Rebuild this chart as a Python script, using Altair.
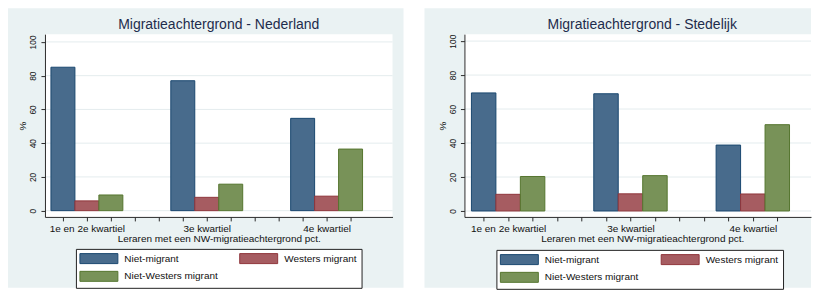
import altair as alt
import pandas as pd

# ---------------- data ----------------
categories = ["1e en 2e kwartiel", "3e kwartiel", "4e kwartiel"]
series = ["Niet-migrant", "Westers migrant", "Niet-Westers migrant"]

nederland_niet_migrant = [85.0, 77.0, 54.7]
nederland_westers = [5.8, 7.9, 8.6]
nederland_niet_westers = [9.3, 15.7, 36.5]

stedelijk_niet_migrant = [69.5, 69.0, 38.8]
stedelijk_westers = [9.8, 10.1, 10.0]
stedelijk_niet_westers = [20.3, 20.8, 50.8]

y_ticks = [0, 20, 40, 60, 80, 100]
panel_titles = ["Migratieachtergrond - Nederland", "Migratieachtergrond - Stedelijk"]
x_title = "Leraren met een NW-migratieachtergrond pct."
y_title = "%"

# ---------------- style ----------------
FONT = "Liberation Sans"
BG = "#EAF2F3"
GRID = "#E4ECEE"
AXIS = "#2b2b2b"
TITLE_COLOR = "#1E2C4C"
fill_colors = ["#486B8C", "#A65C61", "#789258"]
stroke_colors = ["#1A476F", "#90353B", "#55752F"]
SLOTS = 5  # 3 bars + 2 empty slots per group


def make_df(lists):
    rows = []
    for si, (name, vals) in enumerate(zip(series, lists)):
        for gi, v in enumerate(vals):
            rows.append({"group": categories[gi], "gi": gi, "series": name, "si": si, "value": v})
    return pd.DataFrame(rows)


tick_values = list(range(len(categories) * SLOTS - 2))
label_expr = " : ".join(
    f"datum.value == {gi * SLOTS + 1} ? '{c}'" for gi, c in enumerate(categories)
) + " : ''"


def panel(df, title, width, height, xdom, ydom, bg_left, bg_right, legend_x, legend_y, col_pad,
          ylab_size, center_shift):
    xscale = alt.Scale(domain=xdom, nice=False, zero=False)
    yscale = alt.Scale(domain=ydom, nice=False, zero=False)
    yaxis = alt.Axis(
        values=y_ticks, title=y_title, labelAngle=270, labelAlign="center", labelBaseline="middle",
        labelPadding=8, tickSize=4, tickColor=AXIS, domainColor=AXIS, labelColor="#111",
        labelFont=FONT, labelFontSize=ylab_size, titleFont=FONT, titleFontSize=10,
        titleFontWeight="normal", titleColor="#111", titleAngle=270, titleBaseline="middle",
        titleAlign="center", titleX=-22, grid=False, zindex=1,
    )
    xaxis = alt.Axis(
        values=tick_values, labelExpr=label_expr, title=x_title, tickSize=4, tickColor=AXIS,
        domainColor=AXIS, labelColor="#111", labelFont=FONT, labelFontSize=10, labelPadding=3,
        titleFont=FONT, titleFontSize=10, titleFontWeight="normal", titleColor="#111",
        titlePadding=0, titleX=width / 2 + center_shift, grid=False, labelOverlap=False,
        labelFlush=False, zindex=1,
    )
    legend = alt.Legend(
        orient="none", legendX=legend_x, legendY=legend_y, columns=2, direction="horizontal",
        columnPadding=col_pad, rowPadding=3, symbolType="M-3.8,-1H3.8V1H-3.8Z", symbolSize=100,
        symbolStrokeWidth=1, symbolOffset=13.5, labelOffset=20, labelFont=FONT, labelFontSize=10,
        labelColor="#111", strokeColor="#222", fillColor="white", padding=4, title=None, zindex=1,
        labelLimit=0, symbolOpacity=1,
    )
    one = pd.DataFrame({"k": [0]})
    bg = alt.Chart(one).mark_rect(color=BG).encode(
        x=alt.value(bg_left), x2=alt.value(bg_right), y=alt.value(-26), y2=alt.value(height + 71)
    )
    plot_bg = alt.Chart(one).mark_rect(color="white").encode(
        x=alt.value(0), x2=alt.value("width"), y=alt.value(0), y2=alt.value("height")
    )
    grid = alt.Chart(pd.DataFrame({"t": y_ticks})).mark_rule(color=GRID, strokeWidth=1).encode(
        y=alt.Y("t:Q", scale=yscale, axis=yaxis)
    )
    bars = alt.Chart(df).transform_calculate(
        xs=f"datum.gi * {SLOTS} + datum.si - 0.5", xe=f"datum.gi * {SLOTS} + datum.si + 0.5"
    ).mark_rect(strokeWidth=1).encode(
        x=alt.X("xs:Q", scale=xscale, axis=xaxis),
        x2="xe:Q",
        y=alt.Y("value:Q", scale=yscale, axis=yaxis),
        y2=alt.datum(0),
        fill=alt.Fill("series:N", scale=alt.Scale(domain=series, range=fill_colors), legend=legend),
        stroke=alt.Stroke("series:N", scale=alt.Scale(domain=series, range=stroke_colors), legend=legend),
    )
    return alt.layer(bg, plot_bg, grid, bars).properties(
        width=width, height=height,
        title=alt.TitleParams(
            title, font=FONT, fontSize=14, fontWeight="normal", color=TITLE_COLOR,
            anchor="middle", frame="group", offset=-24, dx=center_shift, zindex=1,
        ),
    )


left = panel(
    make_df([nederland_niet_migrant, nederland_westers, nederland_niet_westers]),
    panel_titles[0], 348, 183, [-0.75, 13.75], [-3.7, 104.6], -37, 359, 31, 215, 19, 8.5, 0,
)
right = panel(
    make_df([stedelijk_niet_migrant, stedelijk_westers, stedelijk_niet_westers]),
    panel_titles[1], 347, 183, [-0.786, 13.378], [-3.5, 104.1], -40, 347, 32, 216, 20, 8.5, 4.5,
)

chart = alt.hconcat(left, right, spacing=72, bounds="flush", padding=0).resolve_scale(
    fill="independent", stroke="independent"
).resolve_legend(fill="independent", stroke="independent").configure_view(stroke=None)

chart.save("out.html", embed_options={"renderer": "svg", "actions": False})
